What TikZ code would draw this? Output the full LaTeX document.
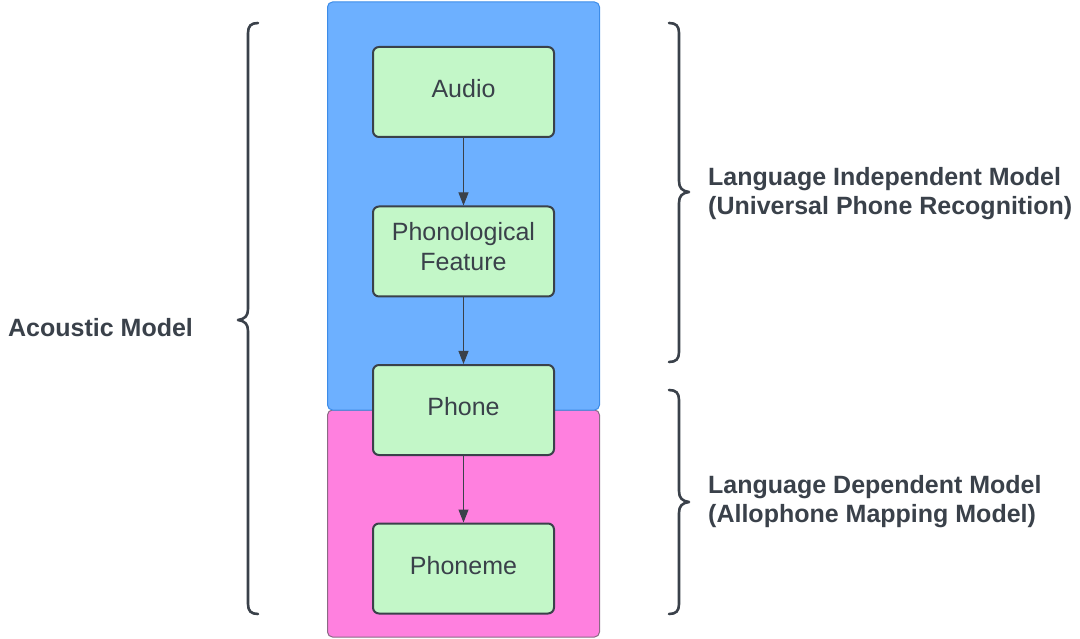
\documentclass[tikz,border=0pt]{standalone}
\usepackage{fontspec}
\setmainfont{Liberation Sans}
\usetikzlibrary{arrows.meta}
\definecolor{ink}{HTML}{3A414A}
\definecolor{bluebg}{HTML}{6DB0FF}
\definecolor{blueedge}{HTML}{3D8CE8}
\definecolor{pinkbg}{HTML}{FF80DF}
\definecolor{pinkedge}{HTML}{8A6A84}
\definecolor{boxfill}{HTML}{C3F7C8}
\tikzset{
  stepbox/.style={draw=ink, fill=boxfill, line width=2pt, rounded corners=6pt,
    minimum width=181pt, minimum height=90pt, inner sep=0pt, align=center,
    text=ink, font=\fontsize{25}{30}\selectfont,
    text height=17.9pt, text depth=6pt},
  twoline/.style={text height=, text depth=9.3pt},
  flow/.style={draw=ink, line width=1pt, -{Triangle[length=13pt,width=10pt]}},
  bracket/.style={draw=ink, line width=2.6pt, line cap=round, line join=round},
  sidelabel/.style={text=ink, anchor=west, align=left, inner sep=0pt,
    font=\fontsize{25}{29}\selectfont\bfseries},
}
\begin{document}
\begin{tikzpicture}[x=1pt,y=-1pt]
\useasboundingbox (0,0) rectangle (1080,639);
% background panels
\draw[fill=pinkbg, draw=pinkedge, line width=1pt, rounded corners=5pt]
  (327.5,410) rectangle (599.5,637);
\draw[fill=bluebg, draw=blueedge, line width=1pt, rounded corners=5pt]
  (327.5,2) rectangle (599.5,410);
% pipeline
\node[stepbox] (audio) at (463.5,92) {Audio};
\node[stepbox, twoline] (feat) at (463.5,251.5) {Phonological\\Feature};
\node[stepbox] (phone) at (463.5,410) {Phone};
\node[stepbox] (phoneme) at (463.5,568.5) {Phoneme};
\draw[flow] (audio) -- (feat);
\draw[flow] (feat) -- (phone);
\draw[flow] (phone) -- (phoneme);
% braces
\draw[bracket] (258,23) .. controls (251,23) and (248,26) .. (248,33)
  -- (248,309) .. controls (248,316) and (245,319) .. (238,320)
  .. controls (245,321) and (248,324) .. (248,331)
  -- (248,604) .. controls (248,611) and (251,614) .. (258,614);
\draw[bracket] (669,23) .. controls (676,23) and (679,26) .. (679,33)
  -- (679,181) .. controls (679,188) and (682,191) .. (689,192)
  .. controls (682,193) and (679,196) .. (679,203)
  -- (679,352) .. controls (679,359) and (676,362) .. (669,362);
\draw[bracket] (669,390) .. controls (676,390) and (679,393) .. (679,400)
  -- (679,491) .. controls (679,498) and (682,501) .. (689,502)
  .. controls (682,503) and (679,506) .. (679,513)
  -- (679,604) .. controls (679,611) and (676,614) .. (669,614);
% labels
\node[sidelabel] (acoustic) at (8,327.5) {Acoustic Model};
\node[sidelabel] (indep) at (708,194) {Language Independent Model\\(Universal Phone Recognition)};
\node[sidelabel] (dep) at (708,501.5) {Language Dependent Model\\(Allophone Mapping Model)};
\end{tikzpicture}
\end{document}
